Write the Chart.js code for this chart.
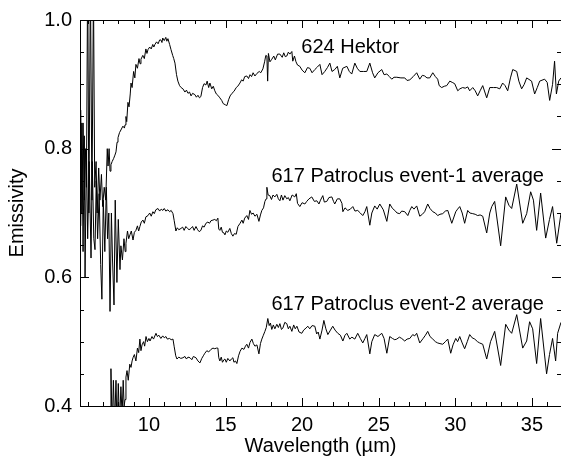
<!DOCTYPE html>
<html>
<head>
<meta charset="utf-8">
<script src="https://cdn.jsdelivr.net/npm/chart.js@4.4.1/dist/chart.umd.min.js"></script>
<style>
  html, body { margin: 0; padding: 0; background: #fff; }
  #wrap { width: 561px; height: 461px; }
</style>
</head>
<body>
<div id="wrap"><canvas id="specChart"></canvas></div>
<script>
// spectra: wavelength (µm) and emissivity
const hektorWl = [5.55,5.62,5.7,5.78,5.85,5.92,6.0,6.08,6.18,6.28,6.38,6.46,6.55,6.62,6.72,6.8,6.9,6.98,7.08,7.18,7.28,7.33,7.4,7.46,7.52,7.6,7.7,7.78,7.85,7.92,7.98,8.08,8.17,8.3,8.4,8.44,8.5,8.55,8.63,8.7,8.78,8.83,8.9,9.0,9.08,9.15,9.25,9.35,9.42,9.48,9.6,9.7,9.8,9.87,9.94,10.05,10.15,10.25,10.32,10.39,10.5,10.6,10.7,10.78,10.85,10.9,11.0,11.1,11.17,11.24,11.35,11.44,11.55,11.62,11.7,11.8,11.89,12.0,12.1,12.22,12.35,12.45,12.55,12.65,12.75,12.85,13.0,13.1,13.2,13.3,13.39,13.5,13.6,13.72,13.8,13.9,13.98,14.1,14.2,14.3,14.4,14.5,14.63,14.75,14.85,15.0,15.09,15.2,15.3,15.42,15.55,15.7,15.8,15.94,16.05,16.15,16.25,16.39,16.5,16.6,16.7,16.8,16.92,17.05,17.2,17.3,17.44,17.55,17.63,17.7,17.75,17.8,17.9,18.02,18.15,18.25,18.4,18.55,18.7,18.8,18.9,19.0,19.1,19.2,19.33,19.39,19.5,19.6,19.7,19.85,20.0,20.18,20.35,20.5,20.65,20.83,21.0,21.16,21.3,21.48,21.65,21.81,21.95,22.13,22.3,22.46,22.65,22.92,23.08,23.24,23.44,23.6,23.77,24.0,24.22,24.42,24.6,24.74,24.95,25.2,25.35,25.53,25.7,25.85,26.0,26.18,26.45,26.7,26.85,27.03,27.25,27.48,27.68,27.85,28.0,28.15,28.33,28.53,28.7,28.85,28.95,29.11,29.28,29.44,29.64,29.8,29.96,30.16,30.3,30.48,30.65,30.81,30.94,31.14,31.3,31.46,31.62,31.79,32.05,32.25,32.5,32.7,32.9,33.09,33.25,33.42,33.6,33.75,34.01,34.15,34.33,34.5,34.66,34.98,35.18,35.35,35.51,35.83,36.0,36.16,36.35,36.48,36.6,36.75,36.9];
const hektorEm = [0.86,0.70,0.84,0.72,0.80,0.74,1.08,0.70,1.06,0.72,1.05,0.74,0.78,0.70,0.77,0.72,0.76,0.71,0.74,0.72,0.80,0.773,0.80,0.765,0.775,0.78,0.785,0.79,0.795,0.81,0.817,0.825,0.829,0.835,0.832,0.837,0.85,0.842,0.872,0.865,0.885,0.902,0.895,0.92,0.91,0.931,0.925,0.94,0.932,0.939,0.945,0.94,0.955,0.948,0.954,0.958,0.955,0.962,0.958,0.962,0.966,0.963,0.969,0.969,0.965,0.972,0.968,0.973,0.967,0.971,0.962,0.954,0.945,0.94,0.933,0.915,0.905,0.898,0.895,0.893,0.888,0.891,0.886,0.888,0.882,0.886,0.884,0.880,0.883,0.879,0.881,0.895,0.901,0.899,0.905,0.895,0.902,0.893,0.897,0.89,0.885,0.883,0.879,0.875,0.870,0.868,0.867,0.876,0.882,0.886,0.889,0.895,0.897,0.902,0.907,0.905,0.912,0.913,0.909,0.915,0.912,0.918,0.913,0.917,0.920,0.918,0.924,0.935,0.945,0.944,0.905,0.948,0.935,0.939,0.944,0.938,0.947,0.947,0.942,0.949,0.943,0.944,0.95,0.947,0.951,0.936,0.944,0.935,0.93,0.928,0.922,0.918,0.926,0.925,0.918,0.923,0.927,0.931,0.915,0.92,0.926,0.933,0.92,0.923,0.928,0.91,0.925,0.928,0.92,0.916,0.933,0.925,0.92,0.92,0.92,0.933,0.918,0.91,0.918,0.923,0.915,0.916,0.912,0.908,0.911,0.911,0.91,0.91,0.906,0.907,0.912,0.918,0.908,0.914,0.913,0.91,0.91,0.918,0.912,0.908,0.898,0.895,0.897,0.898,0.905,0.903,0.901,0.89,0.893,0.895,0.894,0.896,0.89,0.895,0.89,0.882,0.89,0.898,0.879,0.895,0.895,0.895,0.893,0.902,0.898,0.89,0.91,0.923,0.92,0.905,0.893,0.9,0.91,0.905,0.885,0.895,0.905,0.908,0.903,0.875,0.9,0.936,0.885,0.905,0.91];

const patroclus1Wl = [5.55,5.62,5.7,5.78,5.83,5.92,6.0,6.1,6.22,6.3,6.4,6.48,6.56,6.65,6.75,6.85,6.93,7.02,7.12,7.22,7.3,7.38,7.46,7.55,7.62,7.72,7.8,7.91,8.0,8.11,8.17,8.27,8.37,8.45,8.5,8.6,8.68,8.76,8.85,8.96,9.05,9.15,9.25,9.33,9.41,9.5,9.61,9.7,9.8,9.94,10.05,10.15,10.26,10.35,10.45,10.59,10.7,10.8,10.91,11.0,11.1,11.24,11.35,11.45,11.57,11.65,11.76,11.85,11.95,12.09,12.2,12.3,12.41,12.52,12.62,12.74,12.85,12.95,13.07,13.18,13.28,13.39,13.5,13.6,13.72,13.85,13.95,14.05,14.18,14.3,14.4,14.5,14.56,14.63,14.72,14.8,14.9,14.96,15.05,15.15,15.28,15.38,15.48,15.58,15.7,15.81,15.95,16.07,16.15,16.25,16.39,16.5,16.59,16.7,16.8,16.92,17.05,17.18,17.28,17.37,17.48,17.57,17.65,17.7,17.78,17.89,18.0,18.1,18.22,18.35,18.45,18.55,18.65,18.75,18.87,19.0,19.1,19.2,19.35,19.52,19.62,19.7,19.85,20.0,20.18,20.3,20.45,20.63,20.8,20.96,21.1,21.2,21.35,21.45,21.61,21.75,21.94,22.05,22.13,22.3,22.46,22.6,22.66,22.8,22.98,23.15,23.31,23.45,23.63,23.8,23.96,24.1,24.22,24.42,24.55,24.74,24.9,25.07,25.3,25.53,25.72,25.9,26.05,26.2,26.37,26.5,26.7,26.9,27.03,27.16,27.3,27.48,27.68,27.85,28.0,28.2,28.35,28.53,28.7,28.85,29.0,29.18,29.35,29.51,29.77,30.03,30.15,30.29,30.45,30.61,30.81,30.95,31.14,31.3,31.46,31.62,31.79,32.05,32.25,32.38,32.57,32.96,33.29,33.5,33.68,34.01,34.4,34.66,34.92,35.1,35.31,35.57,35.9,36.15,36.35,36.62,36.9];
const patroclus1Em = [0.68,0.84,0.64,0.82,0.60,0.80,0.66,0.78,0.63,0.78,0.66,0.643,0.75,0.66,0.73,0.62,0.566,0.72,0.64,0.74,0.66,0.70,0.547,0.70,0.63,0.557,0.72,0.592,0.69,0.612,0.649,0.627,0.66,0.64,0.653,0.672,0.66,0.666,0.672,0.658,0.67,0.673,0.68,0.672,0.679,0.686,0.689,0.684,0.694,0.696,0.70,0.695,0.702,0.699,0.705,0.707,0.703,0.706,0.704,0.707,0.703,0.705,0.702,0.704,0.699,0.688,0.672,0.677,0.674,0.676,0.678,0.673,0.679,0.676,0.674,0.676,0.679,0.673,0.679,0.674,0.671,0.673,0.68,0.678,0.684,0.686,0.684,0.688,0.689,0.690,0.688,0.692,0.675,0.673,0.678,0.670,0.669,0.666,0.672,0.670,0.676,0.668,0.664,0.668,0.667,0.679,0.684,0.689,0.684,0.692,0.696,0.690,0.704,0.698,0.700,0.695,0.698,0.687,0.697,0.704,0.708,0.718,0.722,0.74,0.728,0.727,0.721,0.728,0.725,0.729,0.722,0.719,0.728,0.72,0.727,0.722,0.724,0.719,0.728,0.725,0.73,0.715,0.71,0.716,0.714,0.718,0.722,0.725,0.718,0.719,0.714,0.72,0.727,0.717,0.718,0.724,0.725,0.718,0.714,0.722,0.722,0.715,0.702,0.708,0.704,0.706,0.71,0.703,0.704,0.700,0.696,0.702,0.71,0.681,0.70,0.711,0.706,0.714,0.705,0.687,0.714,0.707,0.704,0.70,0.699,0.703,0.702,0.696,0.704,0.71,0.706,0.711,0.695,0.698,0.702,0.714,0.707,0.702,0.700,0.696,0.698,0.699,0.703,0.704,0.684,0.702,0.706,0.71,0.70,0.684,0.704,0.700,0.699,0.698,0.696,0.697,0.695,0.669,0.70,0.71,0.718,0.649,0.725,0.712,0.707,0.745,0.684,0.699,0.733,0.72,0.673,0.731,0.661,0.69,0.71,0.653,0.70];

const patroclus2Wl = [7.3,7.4,7.46,7.52,7.6,7.68,7.76,7.85,7.92,8.0,8.08,8.17,8.25,8.32,8.38,8.44,8.5,8.57,8.65,8.75,8.83,8.9,8.96,9.05,9.15,9.25,9.33,9.41,9.48,9.55,9.65,9.72,9.81,9.9,10.0,10.07,10.2,10.3,10.46,10.55,10.65,10.78,10.9,11.0,11.11,11.2,11.35,11.45,11.57,11.65,11.75,11.83,11.95,12.08,12.22,12.35,12.45,12.55,12.68,12.8,12.9,13.07,13.2,13.33,13.45,13.55,13.65,13.78,13.9,14.05,14.18,14.3,14.4,14.5,14.56,14.63,14.72,14.8,14.9,14.96,15.05,15.15,15.28,15.38,15.48,15.55,15.65,15.74,15.85,15.95,16.07,16.2,16.3,16.39,16.5,16.6,16.72,16.82,16.92,17.05,17.18,17.28,17.37,17.47,17.57,17.66,17.76,17.85,17.93,18.02,18.12,18.22,18.35,18.45,18.55,18.65,18.74,18.87,19.0,19.1,19.2,19.33,19.45,19.55,19.66,19.8,19.98,20.1,20.25,20.37,20.5,20.65,20.83,20.95,21.05,21.16,21.3,21.42,21.55,21.68,21.85,22.0,22.15,22.33,22.5,22.66,22.8,22.92,23.11,23.25,23.44,23.63,23.8,23.96,24.1,24.22,24.42,24.55,24.74,24.95,25.2,25.35,25.53,25.72,25.9,26.05,26.18,26.35,26.5,26.7,26.85,27.03,27.22,27.35,27.48,27.68,27.9,28.05,28.2,28.35,28.53,28.7,28.85,29.0,29.18,29.35,29.51,29.7,29.85,30.03,30.15,30.29,30.45,30.61,30.78,30.94,31.1,31.27,31.45,31.59,31.79,32.05,32.3,32.57,32.96,33.29,33.5,33.68,34.01,34.4,34.66,34.85,35.05,35.31,35.57,35.96,36.15,36.35,36.55,36.68,36.9];
const patroclus2Em = [0.36,0.38,0.35,0.458,0.36,0.44,0.37,0.44,0.36,0.435,0.37,0.43,0.385,0.44,0.40,0.41,0.445,0.455,0.44,0.465,0.46,0.47,0.475,0.48,0.47,0.49,0.483,0.504,0.486,0.495,0.50,0.493,0.508,0.50,0.505,0.501,0.508,0.504,0.513,0.508,0.51,0.505,0.509,0.506,0.508,0.504,0.505,0.503,0.504,0.492,0.478,0.473,0.476,0.474,0.475,0.477,0.473,0.476,0.475,0.472,0.477,0.475,0.47,0.467,0.474,0.478,0.482,0.486,0.484,0.488,0.49,0.489,0.49,0.49,0.475,0.47,0.476,0.468,0.472,0.473,0.468,0.474,0.47,0.473,0.475,0.468,0.470,0.466,0.478,0.485,0.49,0.488,0.493,0.496,0.49,0.499,0.504,0.497,0.493,0.495,0.481,0.497,0.504,0.51,0.516,0.522,0.536,0.525,0.529,0.519,0.526,0.52,0.527,0.522,0.528,0.519,0.521,0.53,0.528,0.52,0.524,0.516,0.526,0.52,0.524,0.515,0.513,0.518,0.521,0.524,0.52,0.525,0.524,0.512,0.515,0.504,0.518,0.533,0.52,0.511,0.518,0.524,0.518,0.513,0.51,0.501,0.51,0.513,0.504,0.507,0.504,0.513,0.505,0.498,0.505,0.511,0.481,0.50,0.511,0.508,0.513,0.505,0.482,0.508,0.505,0.503,0.504,0.507,0.505,0.501,0.504,0.505,0.511,0.509,0.513,0.498,0.505,0.51,0.516,0.508,0.504,0.50,0.498,0.497,0.496,0.50,0.504,0.482,0.495,0.505,0.50,0.508,0.498,0.489,0.50,0.511,0.506,0.504,0.50,0.498,0.496,0.473,0.50,0.516,0.463,0.527,0.518,0.513,0.542,0.49,0.501,0.531,0.52,0.466,0.536,0.45,0.48,0.505,0.47,0.513,0.53];

const seriesNames = ['624 Hektor', '617 Patroclus event-1 average', '617 Patroclus event-2 average'];
const xTickVals = [10, 15, 20, 25, 30, 35];
const yTickVals = [0.4, 0.6, 0.8, 1.0];

const FONT = "'Liberation Sans', Arial, Helvetica, sans-serif";

function toPoints(wl, em) {
    return wl.map((x, i) => ({ x: x, y: em[i] }));
}

// inward tick marks on all four sides + top frame line
const frameTicks = {
    id: 'frameTicks',
    afterDraw(chart) {
        const { ctx, chartArea: a, scales: { x, y } } = chart;
        ctx.save();
        ctx.strokeStyle = '#000';
        ctx.lineWidth = 1;
        ctx.beginPath();
        ctx.moveTo(a.left, a.top + 0.5);
        ctx.lineTo(a.right, a.top + 0.5);
        for (let v = 6; v <= 36; v++) {
            const px = Math.round(x.getPixelForValue(v)) + 0.5;
            const len = v % 5 === 0 ? 8 : 4;
            ctx.moveTo(px, a.bottom); ctx.lineTo(px, a.bottom - len);
            ctx.moveTo(px, a.top); ctx.lineTo(px, a.top + len);
        }
        for (let k = 8; k <= 20; k++) {
            const py = Math.round(y.getPixelForValue(k * 0.05)) + 0.5;
            const len = k % 4 === 0 ? 9 : 4;
            ctx.moveTo(a.left, py); ctx.lineTo(a.left + len, py);
            ctx.moveTo(a.right, py); ctx.lineTo(a.right - len, py);
        }
        ctx.stroke();
        ctx.restore();
    }
};

// curve names written above each spectrum (baseline anchored in data units)
const curveNames = {
    id: 'curveNames',
    afterDatasetsDraw(chart) {
        const { ctx, scales: { x, y } } = chart;
        const spots = [[19.95, 0.948], [18.0, 0.748], [18.0, 0.5496]];
        ctx.save();
        ctx.fillStyle = '#000';
        ctx.font = '20px ' + FONT;
        ctx.textAlign = 'left';
        ctx.textBaseline = 'alphabetic';
        seriesNames.forEach((name, i) => {
            ctx.fillText(name, x.getPixelForValue(spots[i][0]), y.getPixelForValue(spots[i][1]));
        });
        ctx.restore();
    }
};

Chart.defaults.font.family = FONT;
Chart.defaults.font.size = 20;
Chart.defaults.color = '#000';

const lineStyle = { borderColor: '#000', borderWidth: 1, pointRadius: 0, tension: 0, fill: false };

new Chart(document.getElementById('specChart'), {
    type: 'line',
    data: {
        datasets: [
            Object.assign({ label: seriesNames[0], data: toPoints(hektorWl, hektorEm) }, lineStyle),
            Object.assign({ label: seriesNames[1], data: toPoints(patroclus1Wl, patroclus1Em) }, lineStyle),
            Object.assign({ label: seriesNames[2], data: toPoints(patroclus2Wl, patroclus2Em) }, lineStyle)
        ]
    },
    options: {
        responsive: true,
        maintainAspectRatio: false,
        animation: false,
        layout: { padding: { top: 13, right: 0, bottom: 0, left: 0 } },
        plugins: { legend: { display: false }, tooltip: { enabled: false } },
        scales: {
            x: {
                type: 'linear',
                min: 5.5,
                max: 36.9,
                afterBuildTicks: s => { s.ticks = xTickVals.map(v => ({ value: v })); },
                afterFit: s => { s.height = 55; },
                grid: { display: false, drawTicks: false },
                border: { display: true, color: '#000', width: 1 },
                ticks: { padding: 7, maxRotation: 0, font: { size: 20 } },
                title: { display: true, text: 'Wavelength (µm)', font: { size: 20 }, padding: { top: 0, bottom: 3 } }
            },
            y: {
                type: 'linear',
                min: 0.4,
                max: 1.0,
                afterBuildTicks: s => { s.ticks = yTickVals.map(v => ({ value: v })); },
                afterFit: s => { s.width = 80; },
                grid: { display: false, drawTicks: false },
                border: { display: true, color: '#000', width: 1 },
                ticks: { padding: 8, font: { size: 20 }, callback: v => Number(v).toFixed(1) },
                title: { display: true, text: 'Emissivity', font: { size: 20 }, padding: { top: 5, bottom: 0 } }
            }
        }
    },
    plugins: [frameTicks, curveNames]
});
</script>
</body>
</html>
